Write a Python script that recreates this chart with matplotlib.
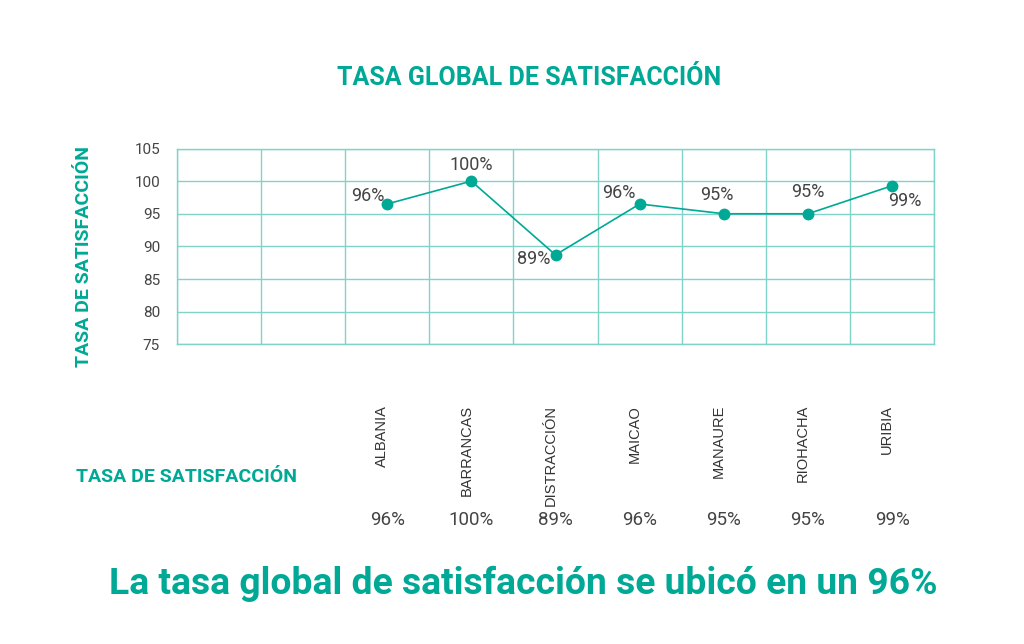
import matplotlib
matplotlib.use('Agg')
import matplotlib.pyplot as plt
import matplotlib.transforms as mtransforms

plt.rcParams['font.family'] = ['Roboto', 'DejaVu Sans']

TEAL = '#00A896'
GRID = '#7FD3C8'
DARK = '#444444'

# data
municipios = ['ALBANIA', 'BARRANCAS', 'DISTRACCIÓN', 'MAICAO', 'MANAURE', 'RIOHACHA', 'URIBIA']
satisfaccion = [96.5, 100.0, 88.7, 96.5, 95.0, 95.0, 99.3]
etiquetas = ['96%', '100%', '89%', '96%', '95%', '95%', '99%']
yticks = [75, 80, 85, 90, 95, 100, 105]
n_slots = 9          # the grid has 9 columns, the first two are empty
first_slot = 2

# label placement relative to each dot, in pixels
label_offsets = [(-3, 8), (0, 16), (-5, -4), (-4, 11), (-7, 19), (0, 22), (13, -15)]
label_ha = ['right', 'center', 'right', 'right', 'center', 'center', 'center']

fig = plt.figure(figsize=(10.24, 6.44), dpi=100)
W, H = 1024, 644
ax = fig.add_axes([176.7 / W, 1 - 344.3 / H, (934.3 - 176.7) / W, (344.3 - 148.5) / H])

xs = [first_slot + i + 0.5 for i in range(len(municipios))]
ax.plot(xs, satisfaccion, color=TEAL, linewidth=1.2, marker='o', markersize=7.5,
        markerfacecolor=TEAL, markeredgecolor=TEAL, zorder=3)

for x, v, lab, off, ha in zip(xs, satisfaccion, etiquetas, label_offsets, label_ha):
    ax.annotate(lab, (x, v), xytext=off, textcoords='offset pixels', ha=ha, va='center',
                fontsize=13, color=DARK, zorder=4)

ax.set_xlim(0, n_slots)
ax.set_ylim(75, 105)
ax.set_yticks(yticks)
ax.set_xticks(range(n_slots + 1))
ax.set_xticklabels([])
ax.tick_params(axis='both', length=0, labelsize=11, labelcolor=DARK, pad=12)
ax.grid(True, color=GRID, linewidth=1.0)
for s in ax.spines.values():
    s.set_color(GRID)
    s.set_linewidth(1.0)

ax.set_ylabel('TASA DE SATISFACCIÓN', fontsize=14, fontweight='bold', color=TEAL)
ax.yaxis.set_label_coords(-84 / (934.3 - 176.7), 0.45)

# rotated category names under the chart
trans = mtransforms.blended_transform_factory(ax.transData, fig.transFigure)
for x, name in zip(xs, municipios):
    ax.text(x - 0.06, 1 - 405 / H, name, transform=trans, rotation=90, ha='center', va='top',
            fontsize=10.5, color='#333333', family=['Liberation Sans', 'DejaVu Sans'])

for x, lab in zip(xs, etiquetas):
    ax.text(x, 1 - 520 / H, lab, transform=trans, ha='center', va='center',
            fontsize=13.5, color=DARK)

fig.text(76 / W, 1 - 477 / H, 'TASA DE SATISFACCIÓN', ha='left', va='center',
         fontsize=14, fontweight='bold', color=TEAL)

fig.text(529 / W, 1 - 78 / H, 'TASA GLOBAL DE SATISFACCIÓN', ha='center', va='center',
         fontsize=18, fontweight='bold', color=TEAL)

fig.text(523 / W, 1 - 584 / H, 'La tasa global de satisfacción se ubicó en un 96%',
         ha='center', va='center', fontsize=26.8, fontweight='bold', color=TEAL)

fig.savefig('out.png', dpi=100, facecolor='white')
